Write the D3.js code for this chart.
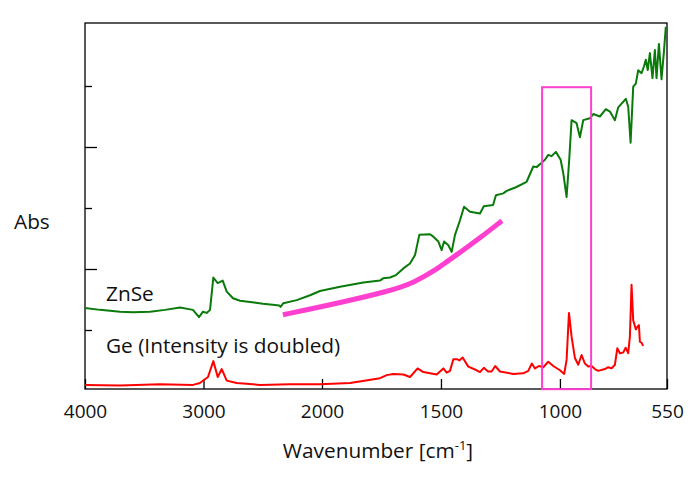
<!DOCTYPE html>
<html><head><meta charset="utf-8">
<script src="https://cdn.jsdelivr.net/npm/d3@7"></script>
<style>body{margin:0;background:#fff}svg{display:block}text{font-family:"Open Sans",sans-serif;fill:#111}</style>
</head><body><svg id="c" width="695" height="477"></svg>
<script>
// ZnSe spectrum: [wavenumber, abs]
const znseWn = [4000,3873,3705,3595,3451,3325,3198,3089,3038,3004,2973,2945,2917,2880,2838,2804,2751,2692,2607,2498,2396,2360,2350,2326,2213,2101,2017,1924,1826,1756,1742,1714,1689,1658,1630,1609,1591,1546,1532,1511,1497,1487,1469,1455,1441,1420,1403,1378,1336,1320,1281,1269,1238,1224,1185,1140,1112,1098,1077,1063,1049,1035,1017,997,986,972,961,951,930,916,902,874,860,832,807,790,769,755,723,713,703,692,681,671,657,647,639,631,622,611,601,594,584,573,563,555];
const znseAbs = [1.36,1.33,1.30,1.29,1.30,1.33,1.37,1.33,1.21,1.30,1.28,1.33,1.86,1.77,1.81,1.63,1.52,1.48,1.46,1.43,1.41,1.40,1.38,1.44,1.49,1.57,1.64,1.71,1.78,1.81,1.85,1.86,1.90,2.01,2.09,2.23,2.56,2.57,2.53,2.45,2.31,2.45,2.39,2.28,2.56,2.80,3.02,2.94,2.91,3.03,3.05,3.21,3.24,3.28,3.34,3.43,3.68,3.67,3.74,3.79,3.87,3.85,3.92,3.79,3.57,3.18,3.79,4.44,4.39,4.16,4.44,4.47,4.54,4.50,4.62,4.58,4.44,4.65,4.79,4.66,4.07,4.99,5.04,5.26,5.21,5.32,5.43,5.26,5.54,5.13,5.59,5.13,5.69,5.11,5.56,5.97];
// Ge spectrum (intensity doubled)
const geWn = [4000,3705,3367,3089,3030,2962,2917,2880,2846,2804,2720,2523,2270,2017,1882,1756,1728,1700,1658,1630,1598,1574,1518,1490,1476,1462,1448,1431,1423,1409,1385,1350,1336,1320,1302,1287,1272,1252,1196,1154,1133,1118,1105,1088,1070,1049,1028,1000,982,972,962,951,937,923,909,895,881,867,853,839,811,797,783,769,759,748,734,724,713,706,699,692,681,675,668,664,657,650];
const geAbs = [0.10,0.09,0.11,0.10,0.13,0.23,0.49,0.23,0.36,0.17,0.13,0.10,0.11,0.11,0.13,0.21,0.26,0.28,0.27,0.23,0.37,0.31,0.27,0.37,0.30,0.33,0.52,0.52,0.50,0.55,0.40,0.34,0.31,0.38,0.32,0.32,0.41,0.32,0.28,0.29,0.33,0.45,0.37,0.41,0.39,0.48,0.41,0.34,0.28,0.51,1.28,0.89,0.54,0.43,0.59,0.45,0.40,0.41,0.36,0.33,0.36,0.39,0.37,0.43,0.70,0.62,0.63,0.71,0.62,0.89,1.74,1.16,1.01,1.05,1.08,0.81,0.79,0.74];
// baseline annotation curve
const baseWn = [2330,1966,1714,1616,1511,1476,1406,1336,1244];
const baseAbs = [1.25,1.41,1.64,1.77,2.01,2.12,2.31,2.51,2.79];
// highlight box (wavenumber range, abs range)
const boxWn = [1075, 869];
const boxAbs = [0.03, 4.98];
const xTicks = [4000,3000,2000,1500,1000,550];
const yTicks = [1,2,3,4,5];
const labels = ["ZnSe", "Ge (Intensity is doubled)"];

const svg = d3.select("#c");
const L = 85, R = 667, T = 23, B = 389;
const x = d3.scaleLinear().domain([4000,2000,550]).range([L,322,R]);
const y = d3.scaleLinear().domain([0,6]).range([391,25]);

// frame
svg.append("rect").attr("x",L).attr("y",T).attr("width",R-L).attr("height",B-T)
  .attr("fill","none").attr("stroke","#000").attr("stroke-width",1.3);

// x axis
const gx = svg.append("g").attr("transform",`translate(0,${B})`)
  .call(d3.axisBottom(x).tickValues(xTicks).tickSizeInner(-10).tickSizeOuter(0).tickPadding(16).tickFormat(d3.format("d")));
gx.select(".domain").remove();
gx.selectAll("line").attr("stroke","#000").attr("stroke-width",1.3);
gx.selectAll("text").style("font-size","19px").attr("fill","#111");

// y axis
const gy = svg.append("g").attr("transform",`translate(${L},0)`)
  .call(d3.axisLeft(y).tickValues(yTicks).tickSizeOuter(0).tickFormat(""));
gy.select(".domain").remove();
gy.selectAll("line").attr("x2", d => d % 2 === 0 ? 12 : 7).attr("stroke","#000").attr("stroke-width",1.3);

const line = d3.line().x(d => x(d[0])).y(d => y(d[1]));
const zip = (a,b) => a.map((v,i)=>[v,b[i]]);

svg.append("path").datum(zip(geWn,geAbs)).attr("d",line)
  .attr("fill","none").attr("stroke","#ff0000").attr("stroke-width",2).attr("stroke-linejoin","round");
svg.append("path").datum(zip(znseWn,znseAbs)).attr("d",line)
  .attr("fill","none").attr("stroke","#0a7a0a").attr("stroke-width",2).attr("stroke-linejoin","round");

svg.append("path").datum(zip(baseWn,baseAbs)).attr("d",line.curve(d3.curveBasis))
  .attr("fill","none").attr("stroke","#ff3fd0").attr("stroke-width",5);

svg.append("rect").attr("x",x(boxWn[0])).attr("y",y(boxAbs[1]))
  .attr("width",x(boxWn[1])-x(boxWn[0])).attr("height",y(boxAbs[0])-y(boxAbs[1]))
  .attr("fill","none").attr("stroke","#ff3fd0").attr("stroke-width",2);

// labels
const fs = "20.8px";
svg.append("text").attr("x",106).attr("y",301).style("font-size",fs).text(labels[0]);
svg.append("text").attr("x",106).attr("y",353).style("font-size",fs).text(labels[1]);
svg.append("text").attr("x",14).attr("y",229).style("font-size",fs).text("Abs");
const xl = svg.append("text").attr("x",378).attr("y",458).attr("text-anchor","middle").style("font-size",fs);
xl.append("tspan").text("Wavenumber [cm");
xl.append("tspan").text("-1").style("font-size","13px").attr("dy",-8);
xl.append("tspan").text("]").attr("dy",8);
</script></body></html>
